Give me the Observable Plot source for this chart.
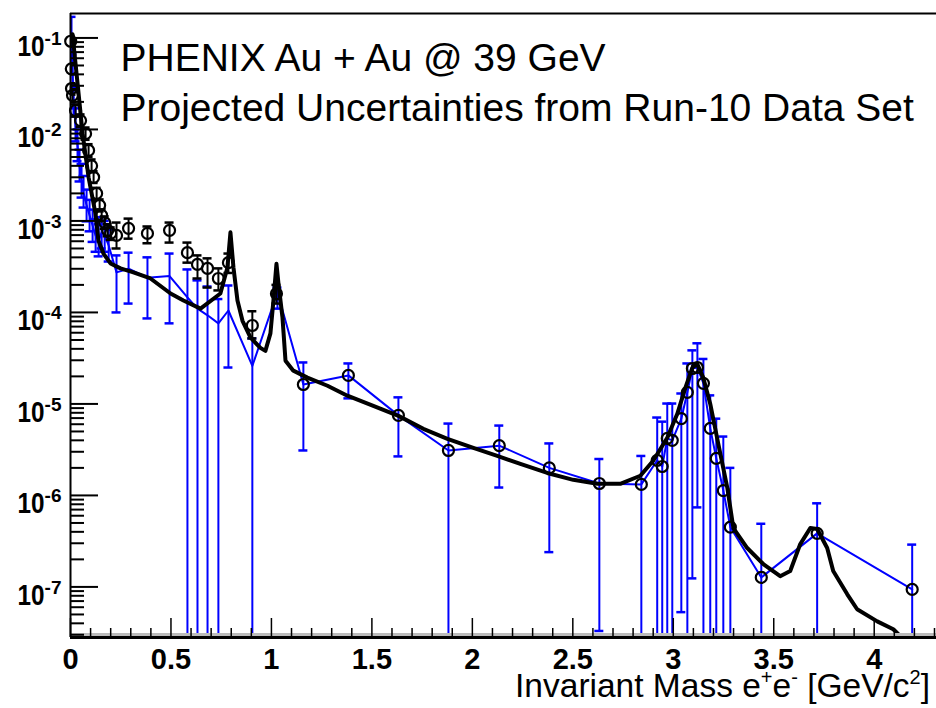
<!DOCTYPE html>
<html><head><meta charset="utf-8">
<script src="https://cdn.jsdelivr.net/npm/d3@7"></script>
<script src="https://cdn.jsdelivr.net/npm/@observablehq/plot@0.6"></script>
<style>body{margin:0;background:#fff;} #chart svg{display:block;}</style>
</head><body><div id="chart"></div>
<script>
// ---- cocktail (thick black curve)
const cocktailMass = [0.010,0.035,0.060,0.090,0.124,0.139,0.164,0.199,0.249,0.313,0.398,0.498,0.562,0.647,0.746,0.781,0.796,0.811,0.831,0.856,0.896,0.945,0.970,0.995,1.010,1.025,1.035,1.055,1.070,1.109,1.179,1.279,1.378,1.507,1.632,1.756,1.876,2.005,2.124,2.239,2.373,2.502,2.622,2.736,2.836,2.900,2.970,3.020,3.060,3.095,3.119,3.149,3.184,3.224,3.269,3.299,3.368,3.448,3.532,3.582,3.632,3.682,3.716,3.766,3.796,3.866,3.915,4.015,4.095,4.144];
const cocktailYield = [0.11,0.032,0.0091,0.0030,0.00121,6.1e-4,4.4e-4,3.43e-4,3.03e-4,2.74e-4,2.35e-4,1.61e-4,1.35e-4,1.10e-4,1.61e-4,3.1e-4,7.5e-4,3.1e-4,1.35e-4,8.1e-5,5.3e-5,4.1e-5,3.8e-5,5.9e-5,1.35e-4,3.4e-4,2.07e-4,8.8e-5,2.97e-5,2.31e-5,1.94e-5,1.58e-5,1.23e-5,9.5e-6,7.4e-6,5.35e-6,4.16e-6,3.31e-6,2.71e-6,2.21e-6,1.76e-6,1.48e-6,1.34e-6,1.34e-6,1.64e-6,2.39e-6,4.27e-6,7.8e-6,1.50e-5,2.49e-5,2.75e-5,1.94e-5,1.0e-5,3.66e-6,1.21e-6,4.4e-7,2.66e-7,1.78e-7,1.31e-7,1.49e-7,2.94e-7,4.4e-7,4.3e-7,2.66e-7,1.49e-7,8.3e-8,5.7e-8,4.2e-8,3.45e-8,2.7e-8];

// ---- measured points (black circles, black error bars)
const dataMass  = [0.001,0.004,0.005,0.010,0.025,0.050,0.075,0.090,0.105,0.115,0.130,0.145,0.155,0.170,0.185,0.200,0.229,0.289,0.383,0.493,0.582,0.632,0.682,0.736,0.786,0.905,1.025];
const dataYield = [0.092,0.046,0.028,0.0236,0.0161,0.0125,0.0090,0.0059,0.0040,0.0030,0.0020,0.00148,0.00115,0.00096,0.00079,0.00073,6.95e-4,8.3e-4,7.3e-4,7.9e-4,4.5e-4,3.35e-4,3.03e-4,2.35e-4,3.5e-4,7.2e-5,1.6e-4];
const dataLo    = [0.080,0.040,0.024,0.020,0.0138,0.0107,0.0077,0.0050,0.0034,0.0026,0.0017,0.00127,0.00099,0.00082,0.00068,0.00062,5.0e-4,6.4e-4,5.7e-4,5.8e-4,3.5e-4,2.35e-4,1.87e-4,1.74e-4,2.7e-4,5.2e-5,1.25e-4];
const dataHi    = [0.105,0.053,0.032,0.0275,0.0188,0.0146,0.0105,0.0069,0.0047,0.0035,0.0023,0.00172,0.00134,0.00112,0.00092,0.00085,9.6e-4,1.06e-3,8.7e-4,9.6e-4,5.8e-4,4.2e-4,3.9e-4,3.03e-4,4.4e-4,1.03e-4,2.0e-4];

// ---- projected points (blue line, blue error bars); null low = bar runs off the bottom
const projMass  = [0.005,0.010,0.015,0.025,0.035,0.045,0.055,0.065,0.080,0.095,0.110,0.125,0.140,0.155,0.170,0.190,0.229,0.289,0.383,0.493,0.582,0.632,0.682,0.736,0.786,0.905,1.030,1.159,1.383,1.632,1.881,2.134,2.383,2.632,2.841,2.920,2.945,2.970,2.995,3.040,3.070,3.095,3.120,3.150,3.184,3.214,3.249,3.284,3.438,3.716,4.189];
const projYield = [0.094,0.044,0.0208,0.0111,0.0067,0.0040,0.00277,0.00205,0.00148,0.00115,0.00089,0.00069,0.00061,0.00075,0.00069,0.00054,2.74e-4,3.0e-4,2.4e-4,2.5e-4,1.46e-4,1.1e-4,9.3e-5,7.6e-5,1.05e-4,2.6e-5,1.66e-4,1.63e-5,2.05e-5,7.5e-6,3.1e-6,3.5e-6,2.0e-6,1.35e-6,1.32e-6,2.42e-6,2.07e-6,4.2e-6,4.0e-6,6.9e-6,1.34e-5,2.44e-5,2.5e-5,1.68e-5,5.4e-6,2.54e-6,1.13e-6,4.5e-7,1.27e-7,3.85e-7,9.4e-8];
const projHi    = [0.17,0.066,0.031,0.017,0.0100,0.0060,0.0042,0.0031,0.0022,0.0017,0.00133,0.00104,0.00092,0.0011,0.00100,0.00080,4.2e-4,4.5e-4,4.0e-4,4.4e-4,2.95e-4,2.24e-4,1.92e-4,1.4e-4,1.97e-4,5.2e-5,1.87e-4,2.84e-5,2.77e-5,1.18e-5,6.1e-6,5.8e-6,3.7e-6,2.5e-6,2.7e-6,7.1e-6,6.4e-6,1.01e-5,1.01e-5,1.30e-5,2.77e-5,3.85e-5,4.6e-5,3.1e-5,1.24e-5,6.9e-6,4.4e-6,2.0e-6,4.9e-7,8.2e-7,2.9e-7];
const projLo    = [0.057,0.029,0.014,0.0074,0.0045,0.0027,0.0018,0.0014,0.00099,0.00077,0.00059,0.00046,0.00041,0.0005,0.00046,0.00036,1.0e-4,1.25e-4,8.6e-5,7.6e-5,null,null,null,null,2.5e-5,null,1.1e-4,3.1e-6,1.15e-5,2.67e-6,null,1.22e-6,2.4e-7,3.3e-8,null,null,null,null,null,5.3e-8,null,1.24e-7,7.4e-7,null,null,null,null,null,null,null,null];
const projCircleFrom = 1.1; // projected points above this mass carry a black open marker

// ---- axes
const xDomain = [0, 4.31];
const yDomain = [2.8e-8, 0.185];
const xMajor = [0,0.5,1,1.5,2,2.5,3,3.5,4];
const xMinor = [0.1,0.2,0.3,0.4,0.6,0.7,0.8,0.9,1.1,1.2,1.3,1.4,1.6,1.7,1.8,1.9,2.1,2.2,2.3,2.4,2.6,2.7,2.8,2.9,3.1,3.2,3.3,3.4,3.6,3.7,3.8,3.9,4.1,4.2,4.3];
const yMajor = [1e-1,1e-2,1e-3,1e-4,1e-5,1e-6,1e-7];
const titleLines = ["PHENIX Au + Au @ 39 GeV", "Projected Uncertainties from Run-10 Data Set"];

const yMinor = [];
for (let e = -8; e <= -1; e++) for (let k = 2; k <= 9; k++) {
  const v = k * Math.pow(10, e);
  if (v > yDomain[0] && v < yDomain[1]) yMinor.push(v);
}

const cocktail = cocktailMass.map((m, i) => ({m, y: cocktailYield[i]}));
const data = dataMass.map((m, i) => ({m, y: dataYield[i], lo: dataLo[i], hi: dataHi[i]}));
const proj = projMass.map((m, i) => ({m, y: projYield[i], lo: projLo[i] == null ? yDomain[0] : projLo[i], hi: projHi[i], capLo: projLo[i] != null}));
const BLUE = "#0000ff";
const noLabel = () => "";

const svg = Plot.plot({
  width: 936, height: 708,
  marginLeft: 70, marginRight: 0, marginTop: 13, marginBottom: 71,
  style: {fontFamily: "'Liberation Sans', Arial, sans-serif", background: "#fff", color: "#000", overflow: "visible"},
  x: {domain: xDomain},
  y: {type: "log", domain: yDomain},
  marks: [
    // blue error bars + caps
    Plot.ruleX(proj, {x: "m", y1: "lo", y2: "hi", stroke: BLUE, strokeWidth: 2, clip: true}),
    Plot.ruleY(proj, {y: "hi", x1: "m", x2: "m", insetLeft: -4.5, insetRight: -4.5, stroke: BLUE, strokeWidth: 2.5, clip: true}),
    Plot.ruleY(proj.filter(d => d.capLo), {y: "lo", x1: "m", x2: "m", insetLeft: -4.5, insetRight: -4.5, stroke: BLUE, strokeWidth: 2.5, clip: true}),
    Plot.line(proj, {x: "m", y: "y", stroke: BLUE, strokeWidth: 2, clip: true}),
    // black measured points
    Plot.ruleX(data, {x: "m", y1: "lo", y2: "hi", stroke: "#000", strokeWidth: 2, clip: true}),
    Plot.ruleY(data, {y: "hi", x1: "m", x2: "m", insetLeft: -4.5, insetRight: -4.5, stroke: "#000", strokeWidth: 2.5, clip: true}),
    Plot.ruleY(data, {y: "lo", x1: "m", x2: "m", insetLeft: -4.5, insetRight: -4.5, stroke: "#000", strokeWidth: 2.5, clip: true}),
    Plot.dot(data, {x: "m", y: "y", r: 5.5, stroke: "#000", strokeWidth: 2.2, fill: "none"}),
    // cocktail
    Plot.line(cocktail, {x: "m", y: "y", stroke: "#000", strokeWidth: 4, clip: true}),
    Plot.dot(proj.filter(d => d.m > projCircleFrom), {x: "m", y: "y", r: 5.5, stroke: "#000", strokeWidth: 2.2, fill: "none"}),
    // frame lines
    Plot.ruleY([yDomain[0]], {stroke: "#bbb", strokeWidth: 3, dy: -3}),
    Plot.ruleY([yDomain[0]], {stroke: "#000", strokeWidth: 3}),
    Plot.ruleY([yDomain[1]], {stroke: "#000", strokeWidth: 2}),
    Plot.ruleX([xDomain[0]], {stroke: "#000", strokeWidth: 2}),
    // ticks (inward)
    Plot.axisX({ticks: xMajor, tickSize: -19, tickFormat: noLabel, label: null, strokeWidth: 1.5}),
    Plot.axisX({ticks: xMinor, tickSize: -9, tickFormat: noLabel, label: null, strokeWidth: 1.5}),
    Plot.axisY({ticks: yMajor, tickSize: -28, tickFormat: noLabel, label: null, strokeWidth: 2}),
    Plot.axisY({ticks: yMinor, tickSize: -14, tickFormat: noLabel, label: null, strokeWidth: 2}),
    // tick labels
    Plot.axisX({ticks: xMajor, tickSize: 0, tickPadding: 11, tickFormat: d => d3.format("~g")(d), label: null, fontWeight: "bold"}),
    Plot.axisY({ticks: yMajor, tickSize: 0, tickPadding: 9, tickFormat: d => String(Math.round(Math.log10(d))), label: null, fontWeight: "bold"}),
    // title
    Plot.text([titleLines.join("\n")], {frameAnchor: "top-left", dx: 50, dy: 23, lineAnchor: "top", textAnchor: "start", fontSize: 39, lineHeight: 1.26, fill: "#000"})
  ]
});

// x tick labels: bold, large
d3.select(svg).selectAll('g[aria-label="x-axis tick label"]').attr("font-size", 29);
d3.select(svg).selectAll('g[aria-label="x-axis tick label"] text').attr("font-size", 29).attr("font-weight", "bold");

// y tick labels: condensed bold "10" with superscript exponent
d3.select(svg).selectAll('g[aria-label="y-axis tick label"] text').each(function() {
  const e = this.textContent;
  if (!e) return;
  const t = d3.select(this);
  t.text(null).attr("dy", 8).attr("font-size", 30).attr("font-weight", "bold");
  t.append("tspan").attr("textLength", 27).attr("lengthAdjust", "spacingAndGlyphs").text("10");
  t.append("tspan").attr("font-size", 19).attr("dy", -11).text(e);
});

// x-axis title
const xt = d3.select(svg).append("text")
  .attr("x", 930).attr("y", 697).attr("text-anchor", "end")
  .attr("font-size", 33.5).attr("fill", "#000");
xt.append("tspan").text("Invariant Mass e");
xt.append("tspan").attr("font-size", 20).attr("dy", -13).text("+");
xt.append("tspan").attr("dy", 13).text("e");
xt.append("tspan").attr("font-size", 20).attr("dy", -13).text("-");
xt.append("tspan").attr("dy", 13).text(" [GeV/c");
xt.append("tspan").attr("font-size", 20).attr("dy", -13).text("2");
xt.append("tspan").attr("dy", 13).text("]");

document.getElementById("chart").appendChild(svg);
</script>
</body></html>
